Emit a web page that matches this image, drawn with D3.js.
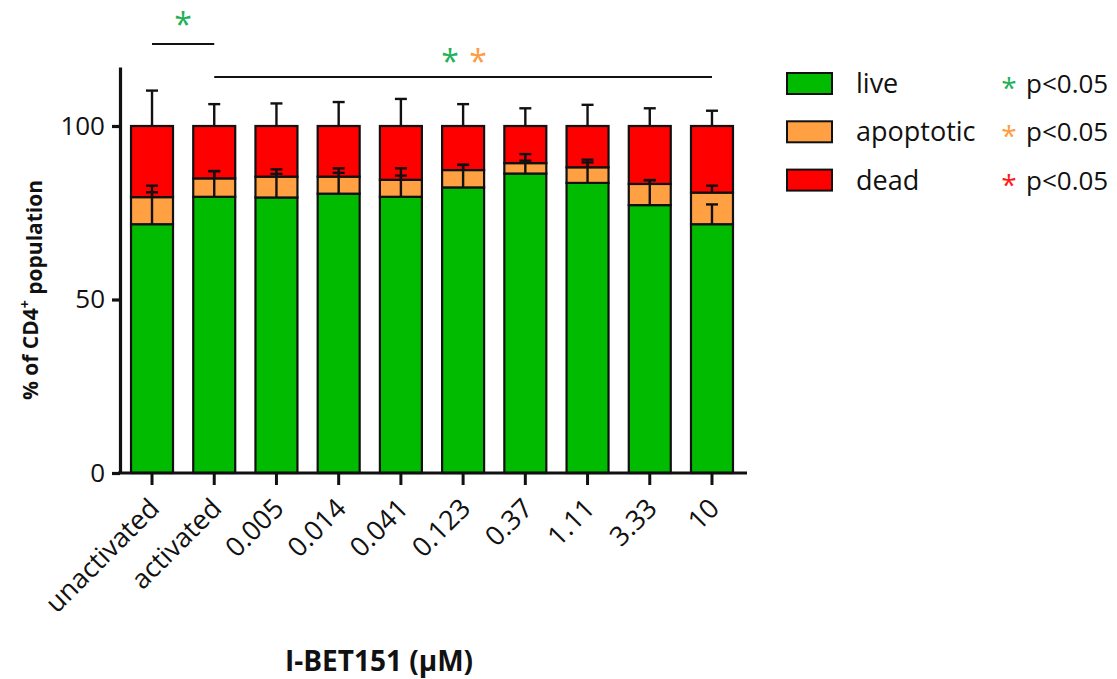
<!DOCTYPE html>
<html>
<head>
<meta charset="utf-8">
<script src="https://cdn.jsdelivr.net/npm/d3@7"></script>
<style>
  html, body { margin: 0; padding: 0; background: #fff; }
  svg { display: block; }
  text { font-family: "Open Sans", "DejaVu Sans", sans-serif; }
</style>
</head>
<body>
<svg id="chart" width="1117" height="679"></svg>
<script>
// Treatment groups (I-BET151 concentration in µM, plus controls)
const categories = ["unactivated", "activated", "0.005", "0.014", "0.041", "0.123", "0.37", "1.11", "3.33", "10"];

// Mean % of CD4+ cells in each state
const live      = [71.7, 79.6, 79.4, 80.5, 79.6, 82.3, 86.3, 83.6, 77.2, 71.7];
const apoptotic = [7.8, 5.3, 6.0, 4.9, 4.9, 5.0, 3.0, 4.5, 6.1, 9.1];
const dead      = [20.5, 15.1, 14.6, 14.6, 15.5, 12.7, 10.7, 11.9, 16.7, 19.2];

// Standard deviations (drawn upward from each segment's top)
const liveSD      = [9.2, 7.4, 6.8, 6.0, 6.1, 6.5, 3.7, 5.9, 7.2, 5.7];
const apoptoticSD = [3.3, 2.1, 2.1, 2.4, 3.3, 1.5, 2.6, 2.2, 1.1, 2.0];
const deadSD      = [10.2, 6.3, 6.5, 6.9, 7.8, 6.3, 5.1, 6.1, 5.1, 4.4];

const seriesKeys   = ["live", "apoptotic", "dead"];
const seriesColors = ["#00bb00", "#ffa143", "#ff0000"];
const starColors   = ["#1fb25a", "#ff9c40", "#ff1a1a"];
const yTicks = [0, 50, 100];

const ink = "#111";

const rows = categories.map((c, i) => ({
  cat: c, live: live[i], apoptotic: apoptotic[i], dead: dead[i],
  sd: { live: liveSD[i], apoptotic: apoptoticSD[i], dead: deadSD[i] }
}));

const svg = d3.select("#chart");

const x = d3.scaleBand()
  .domain(categories)
  .range([120, 744])
  .paddingInner(0.325)
  .paddingOuter(0.177);

const y = d3.scaleLinear().domain([0, 117]).range([473, 67]);

const stacked = d3.stack().keys(seriesKeys)(rows);

// Stacked bars
const g = svg.append("g");
stacked.forEach((layer, li) => {
  g.append("g")
    .selectAll("rect")
    .data(layer)
    .join("rect")
    .attr("x", d => x(d.data.cat))
    .attr("width", x.bandwidth())
    .attr("y", d => y(d[1]))
    .attr("height", d => y(d[0]) - y(d[1]))
    .attr("fill", seriesColors[li])
    .attr("stroke", ink)
    .attr("stroke-width", 2.2);
});

// Error bars (upper half only)
const capHalf = 6;
const eb = svg.append("g").attr("stroke", ink).attr("stroke-width", 2.4);
stacked.forEach((layer) => {
  const key = layer.key;
  layer.forEach(d => {
    const cx = x(d.data.cat) + x.bandwidth() / 2;
    const top = d[1];
    const hi = top + d.data.sd[key];
    eb.append("line").attr("x1", cx).attr("x2", cx).attr("y1", y(top)).attr("y2", y(hi));
    eb.append("line").attr("x1", cx - capHalf).attr("x2", cx + capHalf).attr("y1", y(hi)).attr("y2", y(hi));
  });
});

// Y axis
const yAxis = svg.append("g")
  .attr("transform", "translate(120,0)")
  .call(d3.axisLeft(y).tickValues(yTicks).tickSize(8).tickSizeOuter(0).tickPadding(7));
yAxis.select(".domain").attr("stroke", ink).attr("stroke-width", 3.2);
yAxis.selectAll(".tick line").attr("stroke", ink).attr("stroke-width", 3.2);
yAxis.selectAll(".tick text")
  .style("font-family", "'Open Sans', sans-serif")
  .style("font-size", "26px")
  .style("fill", ink);

// X axis
const xAxis = svg.append("g")
  .attr("transform", "translate(0,473)")
  .call(d3.axisBottom(x).tickSize(12).tickSizeOuter(0).tickFormat(() => ""));
xAxis.select(".domain").attr("d", "M118,0H747").attr("stroke", ink).attr("stroke-width", 3.2);
xAxis.selectAll(".tick line").attr("stroke", ink).attr("stroke-width", 3);

// Rotated category labels
svg.append("g")
  .selectAll("text")
  .data(categories)
  .join("text")
  .attr("transform", d => `translate(${x(d) + x.bandwidth() / 2 + 9},${510}) rotate(-45)`)
  .attr("text-anchor", "end")
  .style("font-size", "27px")
  .style("fill", ink)
  .text(d => d);

// Axis titles
const yTitle = svg.append("text")
  .attr("transform", "translate(38,290) rotate(-90)")
  .attr("text-anchor", "middle")
  .style("font-size", "21px")
  .style("font-weight", "700")
  .style("fill", ink);
yTitle.append("tspan").text("% of CD4");
yTitle.append("tspan").attr("dy", "-0.55em").style("font-size", "14px").text("+");
yTitle.append("tspan").attr("dy", "0.55em").text(" population");

svg.append("text")
  .attr("x", 379).attr("y", 671)
  .attr("text-anchor", "middle")
  .style("font-size", "28px")
  .style("font-weight", "700")
  .style("fill", ink)
  .text("I-BET151 (\u03BCM)");

// Significance brackets
const cxOf = c => x(c) + x.bandwidth() / 2;
const sig = svg.append("g").attr("stroke", ink).attr("stroke-width", 2);
sig.append("line").attr("x1", cxOf("unactivated")).attr("x2", cxOf("activated")).attr("y1", 44).attr("y2", 44);
sig.append("line").attr("x1", cxOf("activated")).attr("x2", cxOf("10")).attr("y1", 77).attr("y2", 77);

const star = (px, py, color) => svg.append("text")
  .attr("x", px).attr("y", py)
  .attr("text-anchor", "middle")
  .style("font-size", "32px")
  .style("fill", color)
  .text("*");
star((cxOf("unactivated") + cxOf("activated")) / 2, 36, starColors[0]);
star(450, 73, starColors[0]);
star(478, 73, starColors[1]);

// Legend
const legend = svg.append("g");
seriesKeys.forEach((k, i) => {
  const ly = 73 + i * 48.3;
  legend.append("rect")
    .attr("x", 787).attr("y", ly).attr("width", 45).attr("height", 21)
    .attr("fill", seriesColors[i]).attr("stroke", ink).attr("stroke-width", 2);
  legend.append("text")
    .attr("x", 856).attr("y", ly + 20)
    .style("font-size", "27px")
    .style("fill", ink)
    .text(k);
  legend.append("text")
    .attr("x", 1009).attr("y", ly + 25)
    .attr("text-anchor", "middle")
    .style("font-size", "28px")
    .style("fill", starColors[i])
    .text("*");
  legend.append("text")
    .attr("x", 1026).attr("y", ly + 20)
    .style("font-size", "26px")
    .style("fill", ink)
    .text("p<0.05");
});
</script>
</body>
</html>
